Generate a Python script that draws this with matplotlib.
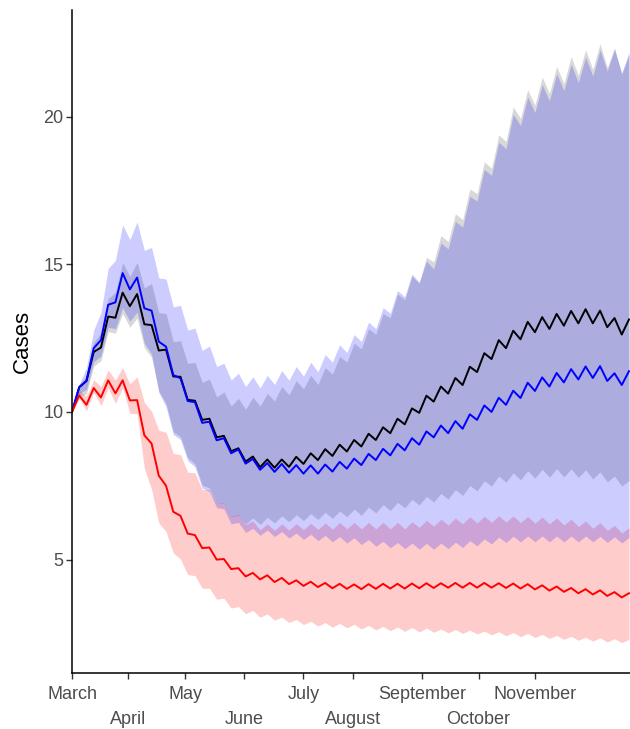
import numpy as np
import matplotlib.pyplot as plt

plt.rcParams['font.family'] = ['Liberation Sans', 'DejaVu Sans']

# days since 1 March, half-week steps (troughs on even index, peaks on odd)
days = np.arange(0, 270, 3.5)

black_mean = [
    10.00, 10.84, 11.05, 12.03, 12.18, 13.23, 13.19, 14.04, 13.58, 13.99,
    12.97, 12.94, 12.08, 12.11, 11.20, 11.19, 10.41, 10.38, 9.73, 9.77,
    9.14, 9.19, 8.67, 8.77, 8.32, 8.49, 8.13, 8.39, 8.11, 8.39,
    8.14, 8.48, 8.24, 8.60, 8.37, 8.74, 8.51, 8.89, 8.66, 9.05,
    8.83, 9.26, 9.05, 9.48, 9.28, 9.77, 9.58, 10.12, 9.97, 10.55,
    10.35, 10.86, 10.62, 11.15, 10.91, 11.53, 11.35, 11.99, 11.79, 12.43,
    12.16, 12.75, 12.46, 13.05, 12.70, 13.21, 12.81, 13.32, 12.92, 13.42,
    13.00, 13.48, 13.00, 13.43, 12.87, 13.18, 12.62, 13.13]
black_lo = [
    10.00, 10.53, 10.61, 11.55, 11.74, 12.72, 12.67, 13.33, 12.87, 13.18,
    12.18, 11.85, 10.71, 10.28, 9.33, 9.16, 8.45, 8.24, 7.52, 7.43,
    6.90, 6.90, 6.44, 6.51, 6.21, 6.41, 6.19, 6.43, 6.24, 6.48,
    6.28, 6.52, 6.32, 6.56, 6.36, 6.60, 6.40, 6.64, 6.45, 6.71,
    6.50, 6.78, 6.58, 6.86, 6.66, 6.94, 6.75, 7.04, 6.85, 7.14,
    6.95, 7.24, 7.05, 7.37, 7.17, 7.51, 7.33, 7.67, 7.49, 7.83,
    7.62, 7.94, 7.70, 8.01, 7.76, 8.06, 7.79, 8.08, 7.80, 8.07,
    7.78, 8.04, 7.73, 7.97, 7.63, 7.83, 7.49, 7.68]
black_hi = [
    10.00, 10.89, 11.25, 12.36, 12.67, 13.84, 14.05, 15.06, 14.59, 15.06,
    14.20, 14.35, 13.36, 13.33, 12.38, 12.41, 11.64, 11.68, 11.00, 11.11,
    10.51, 10.68, 10.20, 10.46, 10.09, 10.50, 10.20, 10.63, 10.37, 10.86,
    10.58, 11.06, 10.78, 11.24, 10.93, 11.50, 11.28, 11.88, 11.69, 12.33,
    12.13, 12.82, 12.63, 13.33, 13.19, 13.99, 13.80, 14.60, 14.36, 15.24,
    15.08, 15.97, 15.77, 16.71, 16.51, 17.55, 17.39, 18.47, 18.25, 19.38,
    19.16, 20.33, 19.94, 20.91, 20.39, 21.34, 20.78, 21.70, 21.12, 22.03,
    21.40, 22.26, 21.60, 22.47, 21.66, 22.33, 21.44, 22.10]

blue_mean = [
    10.00, 10.84, 11.05, 12.16, 12.43, 13.63, 13.71, 14.70, 14.15, 14.55,
    13.51, 13.43, 12.38, 12.21, 11.25, 11.14, 10.37, 10.33, 9.63, 9.67,
    9.04, 9.11, 8.60, 8.73, 8.25, 8.41, 8.04, 8.27, 7.97, 8.24,
    7.94, 8.20, 7.91, 8.19, 7.91, 8.22, 7.98, 8.31, 8.08, 8.42,
    8.20, 8.58, 8.37, 8.75, 8.53, 8.92, 8.70, 9.11, 8.89, 9.34,
    9.14, 9.54, 9.28, 9.69, 9.43, 9.92, 9.73, 10.22, 10.00, 10.48,
    10.24, 10.72, 10.47, 10.99, 10.71, 11.17, 10.86, 11.32, 11.00, 11.45,
    11.10, 11.54, 11.15, 11.55, 11.05, 11.31, 10.91, 11.38]
blue_lo = [
    10.00, 10.63, 10.76, 11.70, 11.89, 12.87, 12.82, 13.53, 13.07, 13.38,
    12.33, 11.96, 10.66, 10.18, 9.24, 9.06, 8.35, 8.14, 7.42, 7.31,
    6.76, 6.72, 6.21, 6.26, 5.92, 6.06, 5.82, 6.00, 5.78, 5.95,
    5.73, 5.90, 5.68, 5.86, 5.64, 5.82, 5.60, 5.78, 5.56, 5.74,
    5.51, 5.68, 5.45, 5.62, 5.40, 5.58, 5.37, 5.56, 5.35, 5.55,
    5.35, 5.56, 5.37, 5.59, 5.41, 5.64, 5.47, 5.70, 5.53, 5.76,
    5.58, 5.79, 5.60, 5.80, 5.60, 5.80, 5.60, 5.80, 5.60, 5.80,
    5.60, 5.80, 5.60, 5.79, 5.58, 5.77, 5.56, 5.75]
blue_hi = [
    10.00, 10.94, 11.50, 12.77, 13.36, 14.86, 15.13, 16.33, 15.84, 16.43,
    15.47, 15.57, 14.54, 14.50, 13.56, 13.61, 12.77, 12.84, 12.08, 12.23,
    11.54, 11.65, 11.08, 11.31, 10.86, 11.19, 10.81, 11.24, 10.93, 11.40,
    11.07, 11.54, 11.21, 11.68, 11.36, 11.94, 11.69, 12.27, 12.01, 12.62,
    12.38, 13.04, 12.82, 13.53, 13.34, 14.11, 13.90, 14.67, 14.39, 15.11,
    14.84, 15.72, 15.52, 16.45, 16.26, 17.30, 17.14, 18.21, 18.01, 19.13,
    18.91, 20.08, 19.70, 20.66, 20.14, 21.08, 20.53, 21.45, 20.88, 21.77,
    21.15, 22.01, 21.37, 22.26, 21.54, 22.28, 21.47, 22.18]

red_mean = [
    10.00, 10.56, 10.24, 10.81, 10.49, 11.07, 10.63, 11.07, 10.39, 10.40,
    9.21, 8.93, 7.84, 7.50, 6.62, 6.48, 5.88, 5.83, 5.39, 5.41,
    5.00, 5.02, 4.68, 4.71, 4.43, 4.55, 4.33, 4.47, 4.24, 4.38,
    4.17, 4.30, 4.11, 4.25, 4.07, 4.21, 4.03, 4.18, 4.01, 4.16,
    4.00, 4.17, 4.01, 4.18, 4.02, 4.18, 4.02, 4.19, 4.03, 4.20,
    4.04, 4.20, 4.05, 4.21, 4.05, 4.21, 4.05, 4.21, 4.05, 4.20,
    4.04, 4.19, 4.02, 4.17, 3.99, 4.13, 3.95, 4.09, 3.91, 4.04,
    3.86, 4.00, 3.82, 3.96, 3.77, 3.90, 3.72, 3.86]
red_lo = [
    10.00, 10.46, 10.04, 10.66, 10.21, 10.81, 10.29, 10.81, 9.95, 9.94,
    8.09, 7.38, 6.24, 5.95, 5.22, 5.02, 4.49, 4.46, 4.03, 4.03,
    3.66, 3.69, 3.36, 3.41, 3.17, 3.28, 3.05, 3.16, 2.95, 3.05,
    2.87, 2.97, 2.80, 2.91, 2.75, 2.87, 2.71, 2.84, 2.69, 2.81,
    2.65, 2.77, 2.62, 2.74, 2.59, 2.72, 2.57, 2.70, 2.55, 2.68,
    2.54, 2.65, 2.52, 2.63, 2.50, 2.61, 2.48, 2.58, 2.45, 2.56,
    2.42, 2.53, 2.39, 2.50, 2.36, 2.47, 2.33, 2.43, 2.30, 2.40,
    2.27, 2.37, 2.24, 2.35, 2.21, 2.32, 2.19, 2.30]
red_hi = [
    10.00, 10.73, 10.53, 11.09, 10.86, 11.42, 11.08, 11.50, 10.95, 11.19,
    10.32, 10.02, 9.38, 9.31, 8.60, 8.55, 7.96, 7.94, 7.37, 7.38,
    6.90, 6.92, 6.46, 6.54, 6.19, 6.31, 6.01, 6.21, 5.99, 6.21,
    6.00, 6.22, 6.01, 6.23, 6.02, 6.24, 6.03, 6.26, 6.04, 6.26,
    6.04, 6.26, 6.04, 6.26, 6.04, 6.26, 6.04, 6.28, 6.09, 6.33,
    6.13, 6.37, 6.17, 6.41, 6.21, 6.45, 6.24, 6.47, 6.26, 6.49,
    6.27, 6.48, 6.25, 6.46, 6.23, 6.44, 6.21, 6.41, 6.17, 6.37,
    6.12, 6.31, 6.06, 6.25, 5.99, 6.16, 5.90, 6.08]

month_days = [0, 27.25, 54.8, 83.4, 112, 135.9, 169.3, 196.7, 224.1]
month_labels = ["March", "April", "May", "June", "July",
                "August", "September", "October", "November"]


fig = plt.figure(figsize=(6.3, 7.29), dpi=100)
ax = fig.add_axes([0.1143, 0.0768, 0.8857, 0.9095])

ax.fill_between(days, black_lo, black_hi, color="#808080", alpha=0.3, lw=0)
ax.fill_between(days, red_lo, red_hi, color="red", alpha=0.2, lw=0)
ax.fill_between(days, blue_lo, blue_hi, color="blue", alpha=0.2, lw=0)

ax.plot(days, black_mean, color="black", lw=1.4)
ax.plot(days, blue_mean, color="blue", lw=1.4)
ax.plot(days, red_mean, color="red", lw=1.4)

ax.set_xlim(0, 270)
ax.set_ylim(1.16, 23.61)
ax.set_yticks([5, 10, 15, 20])

# staggered month labels: odd months on the major ticks, the others on minor
# ticks with a larger pad so they sit on a second row
ax.set_xticks(month_days[0::2])
ax.set_xticklabels(month_labels[0::2])
ax.set_xticks(month_days[1::2], minor=True)
ax.set_xticklabels(month_labels[1::2], minor=True)

for side in ["top", "right"]:
    ax.spines[side].set_visible(False)
for side in ["left", "bottom"]:
    ax.spines[side].set_linewidth(1.1)
    ax.spines[side].set_color("black")

ax.tick_params(axis="both", which="both", length=4, width=1.0, color="#333333",
               labelsize=13, labelcolor="#4D4D4D")
ax.tick_params(axis="y", pad=2)
ax.tick_params(axis="x", which="major", pad=5.5)
ax.tick_params(axis="x", which="minor", pad=23)
ax.set_ylabel("Cases", fontsize=16, color="black", labelpad=8)

fig.savefig("out.png", dpi=100)
